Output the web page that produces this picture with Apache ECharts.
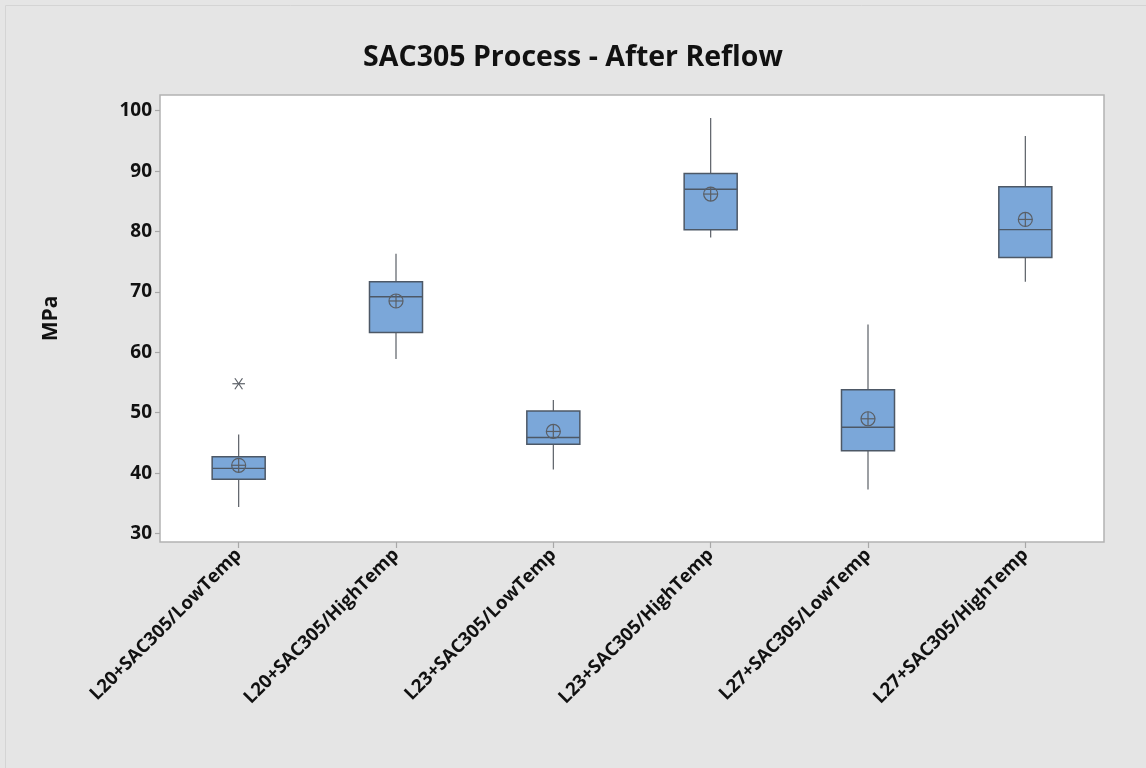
<!DOCTYPE html>
<html>
<head>
<meta charset="utf-8">
<script src="https://cdn.jsdelivr.net/npm/echarts@6/dist/echarts.min.js"></script>
<style>
  html, body { margin: 0; padding: 0; background: #e5e5e5; }
  #chart { width: 1146px; height: 768px; }
</style>
</head>
<body>
<div id="chart"></div>
<script>
// Groups along the x axis
const categories = [
  'L20+SAC305/LowTemp',
  'L20+SAC305/HighTemp',
  'L23+SAC305/LowTemp',
  'L23+SAC305/HighTemp',
  'L27+SAC305/LowTemp',
  'L27+SAC305/HighTemp'
];
// Five-number summaries (MPa)
const whiskerLow  = [34.4, 58.9, 40.6, 79.0, 37.3, 71.7];
const q1          = [39.0, 63.3, 44.8, 80.3, 43.7, 75.7];
const median      = [40.8, 69.2, 45.9, 87.0, 47.6, 80.3];
const q3          = [42.7, 71.7, 50.3, 89.6, 53.8, 87.4];
const whiskerHigh = [46.4, 76.3, 52.1, 98.8, 64.6, 95.8];
// Group means (shown as circled cross)
const means       = [41.3, 68.5, 46.9, 86.2, 49.0, 82.0];
// Outliers: [category index, value]
const outliers    = [[0, 54.8]];
// Y axis tick labels
const yTicks = [30, 40, 50, 60, 70, 80, 90, 100];

const boxData = categories.map((c, i) => [i, whiskerLow[i], q1[i], median[i], q3[i], whiskerHigh[i], means[i]]);

const lineColor = '#5a5f66';
const boxBorder = '#4d5866';
const boxFill = '#7ba7d9';

function renderBox(params, api) {
  const idx = api.value(0);
  const pLow = api.coord([idx, api.value(1)]);
  const pQ1 = api.coord([idx, api.value(2)]);
  const pMed = api.coord([idx, api.value(3)]);
  const pQ3 = api.coord([idx, api.value(4)]);
  const pHigh = api.coord([idx, api.value(5)]);
  const pMean = api.coord([idx, api.value(6)]);
  const bandW = api.size([1, 0])[0];
  const half = bandW * 0.337 / 2;
  const x = pMed[0];
  const r = 7;
  return {
    type: 'group',
    children: [
      { type: 'line', shape: { x1: x, y1: pHigh[1], x2: x, y2: pQ3[1] }, style: { stroke: lineColor, lineWidth: 1.2 } },
      { type: 'line', shape: { x1: x, y1: pQ1[1], x2: x, y2: pLow[1] }, style: { stroke: lineColor, lineWidth: 1.2 } },
      { type: 'rect', shape: { x: x - half, y: pQ3[1], width: half * 2, height: pQ1[1] - pQ3[1] },
        style: { fill: boxFill, stroke: boxBorder, lineWidth: 1.5 } },
      { type: 'line', shape: { x1: x - half, y1: pMed[1], x2: x + half, y2: pMed[1] }, style: { stroke: boxBorder, lineWidth: 1.3 } },
      { type: 'circle', shape: { cx: pMean[0], cy: pMean[1], r: r }, style: { fill: 'none', stroke: lineColor, lineWidth: 1.2 } },
      { type: 'line', shape: { x1: pMean[0] - r, y1: pMean[1], x2: pMean[0] + r, y2: pMean[1] }, style: { stroke: lineColor, lineWidth: 1.2 } },
      { type: 'line', shape: { x1: pMean[0], y1: pMean[1] - r, x2: pMean[0], y2: pMean[1] + r }, style: { stroke: lineColor, lineWidth: 1.2 } }
    ]
  };
}

function renderOutlier(params, api) {
  const p = api.coord([api.value(0), api.value(1)]);
  const w = 6.3, dx = 3.8, dy = 5.5;
  const st = { stroke: lineColor, lineWidth: 1.2 };
  return {
    type: 'group',
    children: [
      { type: 'line', shape: { x1: p[0] - w, y1: p[1], x2: p[0] + w, y2: p[1] }, style: st },
      { type: 'line', shape: { x1: p[0] - dx, y1: p[1] - dy, x2: p[0] + dx, y2: p[1] + dy }, style: st },
      { type: 'line', shape: { x1: p[0] + dx, y1: p[1] - dy, x2: p[0] - dx, y2: p[1] + dy }, style: st }
    ]
  };
}

const font = '"Open Sans", "Noto Sans", sans-serif';
const chart = echarts.init(document.getElementById('chart'), null, { renderer: 'canvas' });
chart.setOption({
  backgroundColor: '#e5e5e5',
  animation: false,
  title: {
    text: 'SAC305 Process - After Reflow',
    left: 'center',
    top: 38,
    textStyle: { fontFamily: font, fontWeight: 'bold', fontSize: 28.5, color: '#111' }
  },
  graphic: [{
    type: 'rect',
    shape: { x: 5.5, y: 5.5, width: 1141, height: 763 },
    style: { fill: 'none', stroke: '#d4d4d4', lineWidth: 1 },
    silent: true
  }],
  grid: {
    left: 160, right: 42, top: 95, bottom: 226,
    show: true, backgroundColor: '#ffffff', borderColor: '#b3b3b3', borderWidth: 1.5
  },
  xAxis: {
    type: 'category',
    data: categories,
    boundaryGap: true,
    axisLine: { show: false },
    axisTick: { show: true, alignWithLabel: true, length: 6, lineStyle: { color: '#a8a8a8', width: 1.2 } },
    axisLabel: {
      interval: 0, rotate: 45, margin: 10,
      fontFamily: font, fontWeight: 'bold', fontSize: 18.5, color: '#111'
    },
    splitLine: { show: false }
  },
  yAxis: {
    type: 'value',
    min: 28.6,
    max: 102.6,
    name: 'MPa',
    nameLocation: 'middle',
    nameGap: 98,
    nameRotate: 90,
    nameTextStyle: { fontFamily: font, fontWeight: 'bold', fontSize: 21, color: '#111' },
    axisLine: { show: false },
    axisTick: { show: true, length: 5, customValues: yTicks, lineStyle: { color: '#a8a8a8', width: 1.2 } },
    axisLabel: {
      customValues: yTicks, margin: 8,
      fontFamily: font, fontWeight: 'bold', fontSize: 19, color: '#111'
    },
    splitLine: { show: false }
  },
  series: [
    {
      type: 'custom',
      renderItem: renderBox,
      data: boxData,
      encode: { x: 0, y: [1, 2, 3, 4, 5, 6] },
      z: 3
    },
    {
      type: 'custom',
      renderItem: renderOutlier,
      data: outliers,
      encode: { x: 0, y: 1 },
      z: 3
    }
  ]
});
</script>
</body>
</html>
